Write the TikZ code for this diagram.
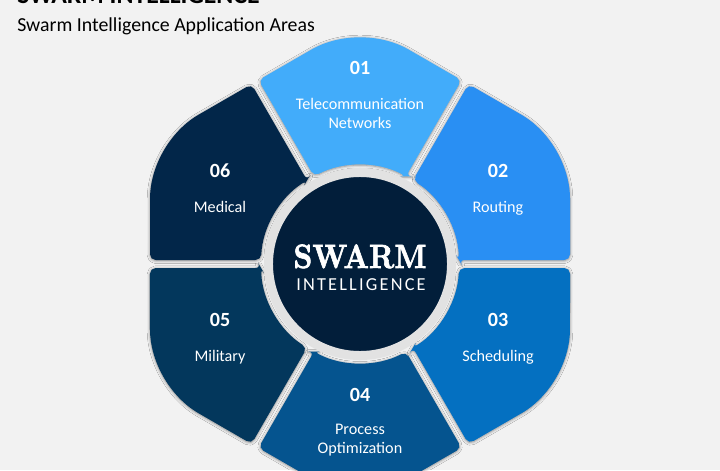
\documentclass[tikz,border=0pt]{standalone}
\usepackage{graphicx}
\usepackage{fontspec}
\newfontfamily\calibri{Carlito}
\newfontfamily\spacedsans{Carlito}[LetterSpace=12]
\newfontfamily\swarmfont{lmroman10-bold.otf}[FakeBold=2]
\usetikzlibrary{shadows.blur}
\definecolor{pagebg}{HTML}{F2F2F2}
\definecolor{ringgrey}{HTML}{E2E2E2}
\definecolor{hubnavy}{HTML}{021E3A}
\definecolor{telecomblue}{HTML}{42ACFA}
\definecolor{routingblue}{HTML}{298FF3}
\definecolor{schedulingblue}{HTML}{0470C1}
\definecolor{processblue}{HTML}{05548F}
\definecolor{militaryblue}{HTML}{03375C}
\definecolor{medicalblue}{HTML}{022649}
\newcommand{\petal}{(46.0,87.67) -- (101.54,183.87) -- (53.4,211.67)
    arc[start angle=60, end angle=120, radius=2.6675cm]
    -- (-101.54,183.87) -- (-46.0,87.67)
    arc[start angle=117.69, end angle=62.31, radius=2.475cm] -- cycle}

\begin{document}
\begin{tikzpicture}[x=0.025cm, y=0.025cm]
    \tikzstyle{petal} = [rounded corners=4pt, blur shadow={shadow xshift=0pt,
    shadow yshift=-0.5pt, shadow blur radius=2pt, shadow opacity=45}]
    \tikzstyle{num} = [anchor=base, text=white, inner sep=0pt,
    font=\calibri\bfseries\fontsize{14.3}{17}\selectfont]
    \tikzstyle{area} = [anchor=base, text=white, inner sep=0pt, align=center,
    font=\calibri\fontsize{11.5}{13.2}\selectfont]
    \fill [pagebg] (0,0) rectangle (720,470);
    \useasboundingbox (0,0) rectangle (720,470);
    \node [anchor=base west, inner sep=0pt, font=\calibri\bfseries\fontsize{18.3}{22}\selectfont]
    (title) at (17,467) {SWARM INTELLIGENCE};
    \node [anchor=base west, inner sep=0pt, font=\calibri\fontsize{14.1}{17}\selectfont]
    (subtitle) at (17,439) {Swarm Intelligence Application Areas};
    \path [petal, fill=telecomblue, shift={(360,206)}, rotate=0] \petal;
    \path [petal, fill=routingblue, shift={(360,206)}, rotate=-60] \petal;
    \path [petal, fill=schedulingblue, shift={(360,206)}, rotate=-120] \petal;
    \path [petal, fill=processblue, shift={(360,206)}, rotate=180] \petal;
    \path [petal, fill=militaryblue, shift={(360,206)}, rotate=120] \petal;
    \path [petal, fill=medicalblue, shift={(360,206)}, rotate=60] \petal;
    \path [fill=hubnavy, draw=ringgrey, line width=6.4pt, blur shadow={shadow xshift=0pt,
    shadow yshift=-0.5pt, shadow blur radius=2pt, shadow opacity=45}]
    (360,206) circle [radius=2.2875cm];
    \node [anchor=base, text=white, inner sep=0pt] (swarm) at (360,202)
    {\scalebox{0.87}[1]{\swarmfont\fontsize{24}{24}\selectfont SWARM}};
    \node [anchor=base, text=white, inner sep=0pt, font=\spacedsans\fontsize{13}{13}\selectfont]
    (intelligence) at (361,180) {INTELLIGENCE};
    \node [num] (telecomnum) at (360,396) {01};
    \node [area] (telecom) at (360,342) {Telecommunication\\Networks};
    \node [num] (routingnum) at (498,293) {02};
    \node [area] (routing) at (498,258) {Routing};
    \node [num] (schedulingnum) at (498,144) {03};
    \node [area] (scheduling) at (498,109) {Scheduling};
    \node [num] (processnum) at (360,68.5) {04};
    \node [area] (process) at (360,17) {Process\\Optimization};
    \node [num] (militarynum) at (220,144) {05};
    \node [area] (military) at (220,109) {Military};
    \node [num] (medicalnum) at (220,293) {06};
    \node [area] (medical) at (220,258) {Medical};
\end{tikzpicture}
\end{document}
